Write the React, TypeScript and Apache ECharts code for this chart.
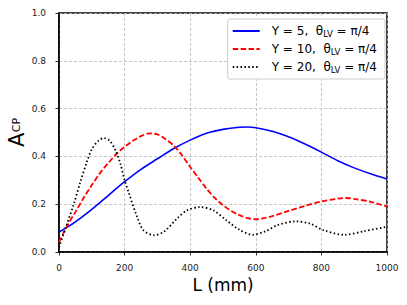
import React, { useEffect, useRef } from "react";
import * as echarts from "echarts";

const yParams = [5, 10, 20];
const thetaLabel = "π/4";

const blueL = [0, 50, 100, 150, 200, 250, 300, 350, 400, 450, 500, 550, 575, 600, 650, 700, 750, 800, 850, 900, 950, 1000];
const blueA = [0.083, 0.126, 0.178, 0.236, 0.294, 0.346, 0.39, 0.433, 0.468, 0.497, 0.513, 0.522, 0.523, 0.52, 0.505, 0.482, 0.452, 0.418, 0.382, 0.352, 0.327, 0.305];

const redL = [0, 25, 50, 75, 100, 125, 150, 175, 200, 225, 250, 275, 300, 325, 350, 375, 400, 425, 450, 475, 500, 525, 550, 575, 600, 625, 650, 700, 750, 800, 850, 875, 900, 950, 1000];
const redA = [0.04, 0.11, 0.167, 0.226, 0.28, 0.33, 0.372, 0.41, 0.44, 0.465, 0.485, 0.496, 0.492, 0.472, 0.445, 0.405, 0.356, 0.31, 0.265, 0.226, 0.196, 0.172, 0.154, 0.142, 0.137, 0.142, 0.15, 0.172, 0.193, 0.211, 0.223, 0.226, 0.222, 0.21, 0.19];

const blackL = [0, 20, 45, 65, 85, 100, 120, 137, 155, 172, 187, 200, 212, 238, 258, 290, 320, 360, 390, 430, 470, 510, 550, 590, 630, 665, 720, 765, 805, 870, 930, 1000];
const blackA = [0.02, 0.1, 0.2, 0.293, 0.377, 0.43, 0.465, 0.477, 0.465, 0.426, 0.37, 0.3, 0.251, 0.147, 0.09, 0.07, 0.085, 0.14, 0.174, 0.188, 0.175, 0.133, 0.093, 0.072, 0.087, 0.112, 0.128, 0.119, 0.092, 0.072, 0.087, 0.106];

const xTicks = [0, 200, 400, 600, 800, 1000];
const yTicks = [0, 0.2, 0.4, 0.6, 0.8, 1.0];

const FONT = "DejaVu Sans";

const pairs = (xs: number[], ys: number[]) => xs.map((x, i) => [x, ys[i]]);

export default function App() {
  const ref = useRef<HTMLDivElement>(null);
  useEffect(() => {
    if (!ref.current) return;
    const chart = echarts.init(ref.current, undefined, { renderer: "svg" });
    const names = yParams.map((y) => `Y = ${y}`);
    const option: any = {
      animation: false,
      backgroundColor: "#fff",
      grid: {
        left: 59,
        right: 20,
        top: 13,
        bottom: 53,
        show: true,
        borderColor: "#000",
        borderWidth: 1.5,
        backgroundColor: "transparent",
        containLabel: false,
        outerBoundsMode: "none",
      },
      graphic: [
        {
          type: "group",
          x: 16.5,
          y: 132.5,
          rotation: Math.PI / 2,
          silent: true,
          children: [
            {
              type: "text",
              x: -14.4,
              y: 0,
              style: {
                text: "A",
                fontFamily: FONT,
                fontSize: 21,
                fill: "#000",
                align: "left",
                verticalAlign: "middle",
              },
            },
            {
              type: "text",
              x: 0.2,
              y: 0,
              style: {
                text: "CP",
                fontFamily: FONT,
                fontSize: 11,
                fill: "#000",
                align: "left",
                verticalAlign: "middle",
              },
            },
          ],
        },
      ],
      legend: {
        orient: "vertical",
        right: 22,
        top: 19,
        itemWidth: 27,
        itemHeight: 12,
        itemGap: 5,
        padding: [6, 8, 5, 4],
        backgroundColor: "#fff",
        borderColor: "#cccccc",
        borderWidth: 1,
        borderRadius: 2,
        itemStyle: { opacity: 0 },
        data: names,
        formatter: (name: string) => {
          const y = name.replace("Y = ", "");
          return `{f|Y = ${y},  θ}{s|LV}{a| = ${thetaLabel}}`;
        },
        textStyle: {
          fontFamily: FONT,
          color: "#000",
          rich: {
            f: { fontFamily: FONT, fontSize: 12, lineHeight: 14, color: "#000", padding: [0, 0, 0, 7] },
            a: { fontFamily: FONT, fontSize: 12, lineHeight: 14, color: "#000" },
            s: { fontFamily: FONT, fontSize: 8.5, lineHeight: 9, verticalAlign: "bottom", color: "#000" },
          },
        },
      },
      xAxis: {
        type: "value",
        min: 0,
        max: 1000,
        interval: 200,
        name: "L (mm)",
        nameLocation: "middle",
        nameGap: 24,
        nameTextStyle: { fontFamily: FONT, fontSize: 17, color: "#000" },
        axisLine: { show: true, onZero: false, lineStyle: { color: "#000", width: 1.5 } },
        axisTick: { show: true, inside: false, length: 3.5, lineStyle: { color: "#000", width: 0.8 } },
        axisLabel: {
          fontFamily: FONT,
          fontSize: 9,
          color: "#222",
          margin: 11,
          formatter: (v: number) => (xTicks.includes(v) ? String(v) : ""),
        },
        splitLine: { show: true, lineStyle: { color: "#b8b8b8", width: 0.8, type: [3, 2] } },
      },
      yAxis: {
        type: "value",
        min: 0,
        max: 1,
        interval: 0.2,
        axisLine: { show: true, onZero: false, lineStyle: { color: "#000", width: 1.5 } },
        axisTick: { show: true, inside: false, length: 3.5, lineStyle: { color: "#000", width: 0.8 } },
        axisLabel: {
          fontFamily: FONT,
          fontSize: 9,
          color: "#222",
          margin: 13,
          formatter: (v: number) => {
            const t = yTicks.find((y) => Math.abs(y - v) < 1e-9);
            return t === undefined ? "" : t.toFixed(1);
          },
        },
        splitLine: { show: true, lineStyle: { color: "#b8b8b8", width: 0.8, type: [3, 2] } },
      },
      series: [
        {
          name: names[0],
          type: "line",
          data: pairs(blueL, blueA),
          smooth: 0.3,
          symbol: "none",
          lineStyle: { color: "#0000ff", width: 1.6, type: "solid" },
          itemStyle: { color: "#0000ff" },
        },
        {
          name: names[1],
          type: "line",
          data: pairs(redL, redA),
          smooth: 0.3,
          symbol: "none",
          lineStyle: { color: "#ff0000", width: 1.8, type: [5.5, 2.4] },
          itemStyle: { color: "#ff0000" },
        },
        {
          name: names[2],
          type: "line",
          data: pairs(blackL, blackA),
          smooth: 0.3,
          symbol: "none",
          lineStyle: { color: "#000000", width: 1.8, type: [1.5, 2.4] },
          itemStyle: { color: "#000000" },
        },
      ],
    };
    chart.setOption(option);
    return () => chart.dispose();
  }, []);
  return (
    <div
      ref={ref}
      style={{ position: "fixed", left: 0, top: 0, width: 407, height: 305 }}
    />
  );
}
